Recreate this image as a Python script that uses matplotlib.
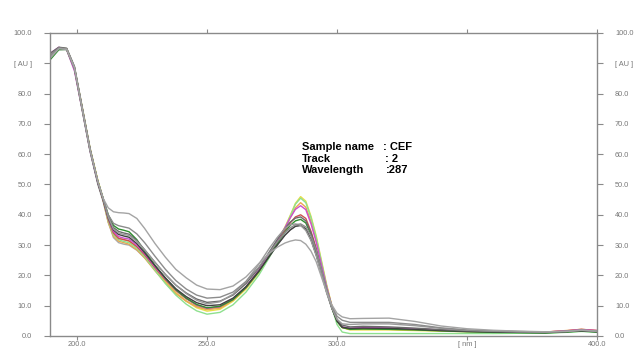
import matplotlib
matplotlib.use("Agg")
import matplotlib.pyplot as plt

# Wavelength grid (nm)
wavelength = [190, 193, 196, 199, 202, 205, 208,
              210, 212, 214, 216, 218, 220,
              223, 226, 230, 234, 238, 242, 246, 250,
              255, 260, 265, 270, 274, 277, 280, 282,
              284, 286, 288, 290, 292, 294, 296, 298,
              300, 302, 305, 310, 320, 330, 340, 350,
              360, 370, 380, 388, 394, 400]

# Absorbance spectra (AU), one list per track
gray_upper = [92, 94.8, 94.6, 88.5, 75, 61.5, 51,
              45.5, 42.3, 41, 40.7, 40.6, 40.4,
              38.8, 35.5, 30.5, 26, 22, 19.2, 16.8, 15.5,
              15.3, 16.5, 19.5, 24, 27.3, 29.3, 30.7, 31.3,
              31.7, 31.5, 30.3, 28, 24.5, 19.5, 14.5, 10.3,
              7.5, 6.3, 5.7, 5.8, 5.9, 4.8, 3.3, 2.4,
              1.9, 1.6, 1.4, 1.5, 1.9, 1.6]
gray_mid = [93, 95, 94.8, 88.8, 75, 61.5, 51,
            45.5, 40, 37.2, 36.4, 36, 35.6,
            33.7, 30.8, 26.3, 22, 18.3, 15.5, 13.5, 12.5,
            12.8, 14.5, 18, 22.8, 27.5, 31, 34.2, 35.7,
            36.7, 37, 36, 33, 28.3, 22, 15.5, 10,
            6.5, 5.2, 4.5, 4.5, 4.5, 3.8, 2.7, 2.0,
            1.7, 1.5, 1.3, 1.5, 1.9, 1.6]
gray_broad = [92.5, 95, 94.7, 88.5, 75, 61.5, 51,
              45.3, 39.3, 35.3, 34, 33.5, 33.2,
              31.2, 28.4, 24.3, 20.3, 16.8, 14, 11.8, 10.6,
              11.3, 13.8, 18, 23.8, 29, 32.5, 35.5, 36.7,
              37, 36.5, 34.8, 31.5, 26.5, 20.5, 14.2, 9.2,
              5.5, 4, 3.8, 4.0, 4.0, 3.4, 2.5, 1.9,
              1.6, 1.4, 1.3, 1.6, 2.0, 1.6]
gray_dark = [93.5, 95.3, 95, 89, 75.5, 62, 51,
             45.5, 39.5, 35.8, 34.5, 34, 33.6,
             31.5, 28.5, 24.3, 20.3, 16.8, 14.2, 12.2, 11.1,
             11.5, 13.5, 17.3, 22.5, 27.8, 31.8, 35.5, 37.6,
             38.9, 39.3, 38, 34, 28.3, 21.8, 15.2, 9.6,
             5.5, 3.6, 3.0, 3.2, 3.0, 2.6, 2.1, 1.7,
             1.5, 1.3, 1.2, 1.5, 1.8, 1.5]
black = [92.5, 95, 94.8, 88.5, 75, 61.5, 50.5,
         45, 39, 35, 33.5, 33, 32.6,
         30.5, 27.5, 23.2, 19.2, 15.6, 13, 11, 10,
         10.3, 12.5, 16.3, 21.5, 26.3, 30, 33.3, 35,
         36.2, 36.5, 35.3, 31.8, 26.8, 20.8, 14.6, 9.2,
         5, 2.9, 2.5, 2.6, 2.5, 2.2, 1.8, 1.5,
         1.3, 1.2, 1.1, 1.4, 1.7, 1.4]
gray_lower = [92, 94.5, 94.5, 88, 74.5, 61, 50,
              44.5, 37.5, 32.5, 30.8, 30.3, 30,
              28.3, 25.8, 21.8, 17.8, 14.2, 11.5, 9.7, 8.8,
              9.4, 11.8, 15.8, 21.2, 26.3, 30, 33.3, 35,
              36.2, 36.5, 35.3, 31.8, 26.8, 20.8, 14.6, 9.2,
              5, 2.8, 2.2, 2.3, 2.2, 2.0, 1.7, 1.5,
              1.3, 1.2, 1.1, 1.4, 1.8, 1.4]
green_dark = [91.5, 94.5, 94.6, 88.5, 75, 61.5, 51,
              45.5, 40, 36.5, 35.3, 34.9, 34.4,
              31.8, 28, 23.3, 19, 15.3, 12.5, 10.4, 9.3,
              9.8, 12, 16, 21.3, 26.5, 30.5, 34.3, 36.5,
              38, 38.5, 37.3, 33.5, 28, 21.5, 15, 9.3,
              4.8, 2.8, 2.2, 2.3, 2.2, 2.0, 1.7, 1.4,
              1.2, 1.1, 1.0, 1.3, 1.6, 1.3]
green_light = [93, 95, 94.5, 88, 74.5, 61, 50.5,
               45, 38, 33.5, 31.8, 31.2, 30.8,
               29, 26.2, 21.7, 17.3, 13.5, 10.5, 8.3, 7.2,
               7.8, 10.3, 14.5, 20.2, 26, 30.5, 35.5, 39.5,
               43.5, 45.5, 44, 39, 32.5, 24.5, 16.5, 9.5,
               3.8, 1.3, 0.8, 0.8, 0.8, 0.8, 0.8, 0.8,
               0.8, 0.9, 0.9, 1.2, 1.5, 1.3]
yellow = [93.2, 95.2, 94.8, 88.5, 75.5, 62, 51.5,
          45.5, 38.5, 34, 32.3, 31.8, 31.3,
          29.5, 26.8, 22.3, 18, 14.3, 11.5, 9.3, 8.2,
          8.8, 11.5, 15.5, 21, 26.5, 31, 36, 39.8,
          43.8, 46, 44.5, 39.5, 33, 25, 17, 10,
          5, 2.8, 2.0, 2.0, 2.0, 1.8, 1.6, 1.4,
          1.3, 1.2, 1.2, 1.6, 2.0, 1.7]
magenta = [93.5, 95.3, 94.5, 87.5, 74.5, 61, 50.5,
           45.2, 39, 34.5, 32.8, 32.3, 32,
           30, 27.2, 22.8, 18.8, 15.2, 12.5, 10.3, 9.2,
           9.7, 12.2, 16.2, 21.8, 27.2, 31.5, 35.8, 39,
           41.8, 43, 41.7, 37, 31, 23.5, 16.2, 9.8,
           5, 3, 2.6, 2.8, 2.7, 2.4, 2.0, 1.7,
           1.5, 1.4, 1.3, 1.7, 2.1, 1.8]
orange = [93, 95, 94.7, 88.5, 75, 61.5, 51,
          45, 37.5, 33, 31.3, 30.8, 30.3,
          28.5, 25.8, 21.5, 17.5, 14, 11.5, 9.6, 8.7,
          9.2, 11.8, 15.8, 21.3, 26.8, 31, 35.5, 39,
          42.3, 44, 42.5, 37.8, 31.5, 24, 16.5, 10,
          5, 2.8, 2.2, 2.4, 2.3, 2.1, 1.8, 1.6,
          1.4, 1.3, 1.3, 1.8, 2.2, 1.8]
red = [93, 95.1, 94.6, 88.2, 75, 61.5, 50.8,
       45, 38.5, 34, 32.2, 31.8, 31.4,
       29.5, 26.8, 22.5, 18.5, 15, 12.3, 10.2, 9.2,
       9.7, 12.2, 16.2, 21.7, 27, 31, 34.8, 37.3,
       39.3, 40, 38.8, 34.5, 29, 22, 15.3, 9.5,
       5, 2.9, 2.4, 2.6, 2.5, 2.3, 1.9, 1.6,
       1.4, 1.3, 1.3, 1.7, 2.2, 1.8]

series = [
    (gray_lower, "#a8a8a8"),
    (yellow, "#e8de48"),
    (orange, "#eaa850"),
    (green_light, "#8ee08e"),
    (red, "#cc5050"),
    (magenta, "#cc50cc"),
    (green_dark, "#2e8f2e"),
    (black, "#404040"),
    (gray_dark, "#6a6a6a"),
    (gray_broad, "#9a9a9a"),
    (gray_mid, "#8c8c8c"),
    (gray_upper, "#a4a4a4"),
]

x_ticks = [200, 250, 300, 350, 400]
x_tick_labels = ["200.0", "250.0", "300.0", "[ nm ]", "400.0"]
y_ticks = [0, 10, 20, 30, 40, 50, 60, 70, 80, 90, 100]
y_tick_labels = ["0.0", "10.0", "20.0", "30.0", "40.0", "50.0", "60.0",
                 "70.0", "80.0", "[ AU ]", "100.0"]

plt.rcParams['font.family'] = ['Liberation Sans', 'DejaVu Sans']

fig = plt.figure(figsize=(6.35, 3.5), dpi=100)
ax = fig.add_axes([50 / 635, 14 / 350, 547 / 635, 303 / 350])

for vals, col in series:
    ax.plot(wavelength, vals, color=col, lw=1.0)

ax.set_xlim(189.6, 400)
ax.set_ylim(0, 100)

ax.set_xticks(x_ticks)
ax.set_xticklabels(x_tick_labels)
ax.set_yticks(y_ticks)
ax.set_yticklabels(y_tick_labels)

for s in ax.spines.values():
    s.set_color("#8a8a8a")
    s.set_linewidth(1.0)

ax.tick_params(axis="both", which="both", direction="out", length=4,
               width=0.8, color="#8a8a8a", labelsize=5.3, labelcolor="#777777")
ax.tick_params(axis="y", left=True, right=True, labelleft=True, labelright=True, pad=9)
ax.tick_params(axis="x", bottom=True, top=True, labelbottom=True, labeltop=False,
               length=3, pad=0.5)

# info text
fs = 8
rows = [("Sample name", ": CEF", 147, 383),
        ("Track", ": 2", 159, 385),
        ("Wavelength", ":287", 170, 386)]
for label, value, ypx, xv in rows:
    fig.text(302 / 635, 1 - ypx / 350, label, fontsize=fs, fontweight="bold",
             va="center", ha="left")
    fig.text(xv / 635, 1 - ypx / 350, value, fontsize=fs, fontweight="bold",
             va="center", ha="left")

fig.savefig("out.png", dpi=100)
